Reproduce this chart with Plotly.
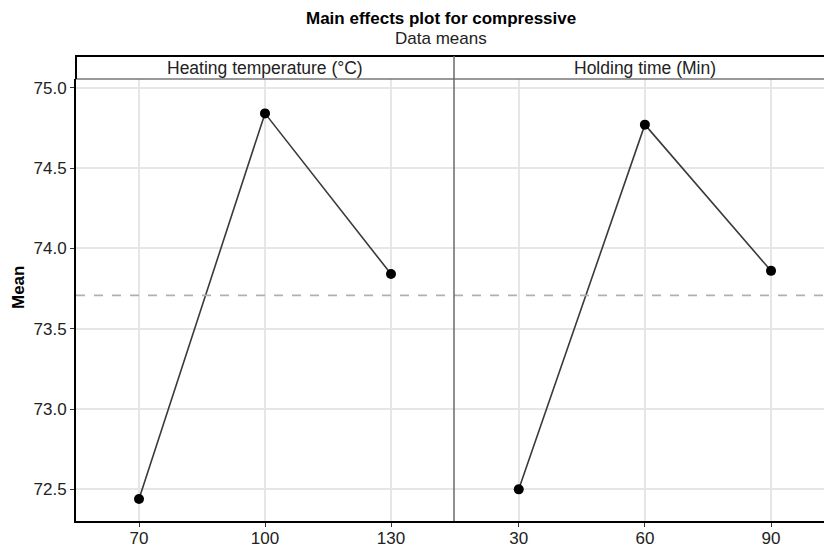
import plotly.graph_objects as go

# Factor levels and the mean response at each level
heat_levels = [70, 100, 130]
heat_means = [72.44, 74.84, 73.84]
hold_levels = [30, 60, 90]
hold_means = [72.50, 74.77, 73.86]

y_ticks = [72.5, 73.0, 73.5, 74.0, 74.5, 75.0]
panel_titles = ["Heating temperature (°C)", "Holding time (Min)"]

grand_mean = sum(heat_means) / len(heat_means)

FONT = "Liberation Sans, Arial, Helvetica, sans-serif"
W, H = 824, 548
ML, MR, MT, MB = 76, 0, 79, 27
PW = W - ML - MR
PH = H - MT - MB
split = 378 / PW  # panel divider in paper units


def py(px):
    """Convert a pixel row to paper y."""
    return (H - MB - px) / PH


def pxx(px):
    """Convert a pixel column to paper x."""
    return (px - ML) / PW


fig = go.Figure()

line_style = dict(color="#3a3a3a", width=1.6)
marker_style = dict(color="black", size=10)

fig.add_trace(go.Scatter(x=heat_levels, y=heat_means, mode="lines+markers",
                         line=line_style, marker=marker_style,
                         xaxis="x", yaxis="y", showlegend=False))
fig.add_trace(go.Scatter(x=hold_levels, y=hold_means, mode="lines+markers",
                         line=line_style, marker=marker_style,
                         xaxis="x2", yaxis="y", showlegend=False))

axis_common = dict(
    showgrid=True, gridcolor="#e6e6e6", gridwidth=1.5, automargin=False,
    zeroline=False, ticks="outside", ticklen=4, tickwidth=1,
    tickcolor="#333333", tickfont=dict(family=FONT, size=17, color="#222222"),
)
x_common = dict(showline=True, linecolor="black", linewidth=2, anchor="y",
                ticklabelstandoff=-3, **axis_common)

fig.update_layout(
    width=W, height=H,
    margin=dict(l=ML, r=MR, t=MT, b=MB),
    paper_bgcolor="white", plot_bgcolor="white",
    font=dict(family=FONT),
    xaxis=dict(domain=[0, split], range=[55, 145], tickvals=heat_levels,
               **x_common),
    xaxis2=dict(domain=[split, 1], range=[14.6, 102.6], tickvals=hold_levels,
                **x_common),
    yaxis=dict(range=[72.303, 75.054], tickvals=y_ticks,
               ticktext=[f"{v:.1f}" for v in y_ticks],
               showline=True, linecolor="black", linewidth=2,
               **axis_common),
)

shapes = []
# overall mean reference line across both panels
shapes.append(dict(type="line", xref="paper", yref="y", x0=0, x1=1,
                   y0=grand_mean, y1=grand_mean,
                   line=dict(color="#b0b0b0", width=1.8, dash="dash")))
# strip header band
strip_top = py(56)
shapes.append(dict(type="line", xref="paper", yref="paper", x0=0, x1=1,
                   y0=1, y1=1, line=dict(color="#777777", width=1.5)))
shapes.append(dict(type="line", xref="paper", yref="paper", x0=pxx(75), x1=1,
                   y0=strip_top, y1=strip_top,
                   line=dict(color="black", width=2)))
shapes.append(dict(type="line", xref="paper", yref="paper", x0=0, x1=0,
                   y0=1, y1=strip_top, line=dict(color="black", width=2)))
# divider between the two panels
shapes.append(dict(type="line", xref="paper", yref="paper", x0=split, x1=split,
                   y0=0, y1=strip_top, line=dict(color="#6a6a6a", width=1.5)))
fig.update_layout(shapes=shapes)

annotations = [
    dict(text="<b>Main effects plot for compressive</b>", xref="paper",
         yref="paper", x=pxx(441), y=py(18), showarrow=False,
         xanchor="center", yanchor="middle",
         font=dict(family=FONT, size=17, color="black")),
    dict(text="Data means", xref="paper", yref="paper", x=pxx(441),
         y=py(38), showarrow=False, xanchor="center", yanchor="middle",
         font=dict(family=FONT, size=17, color="#222222")),
    dict(text=panel_titles[0], xref="x", yref="paper", x=heat_levels[1],
         y=py(67.5), showarrow=False, xanchor="center", yanchor="middle",
         font=dict(family=FONT, size=17.5, color="#222222")),
    dict(text=panel_titles[1], xref="x2", yref="paper", x=hold_levels[1],
         y=py(67.5), showarrow=False, xanchor="center", yanchor="middle",
         font=dict(family=FONT, size=17.5, color="#222222")),
    dict(text="<b>Mean</b>", xref="paper", yref="paper", x=pxx(18),
         y=py(288), showarrow=False, textangle=-90,
         xanchor="center", yanchor="middle",
         font=dict(family=FONT, size=17, color="black")),
]
fig.update_layout(annotations=annotations)

fig.write_html("out.html")
